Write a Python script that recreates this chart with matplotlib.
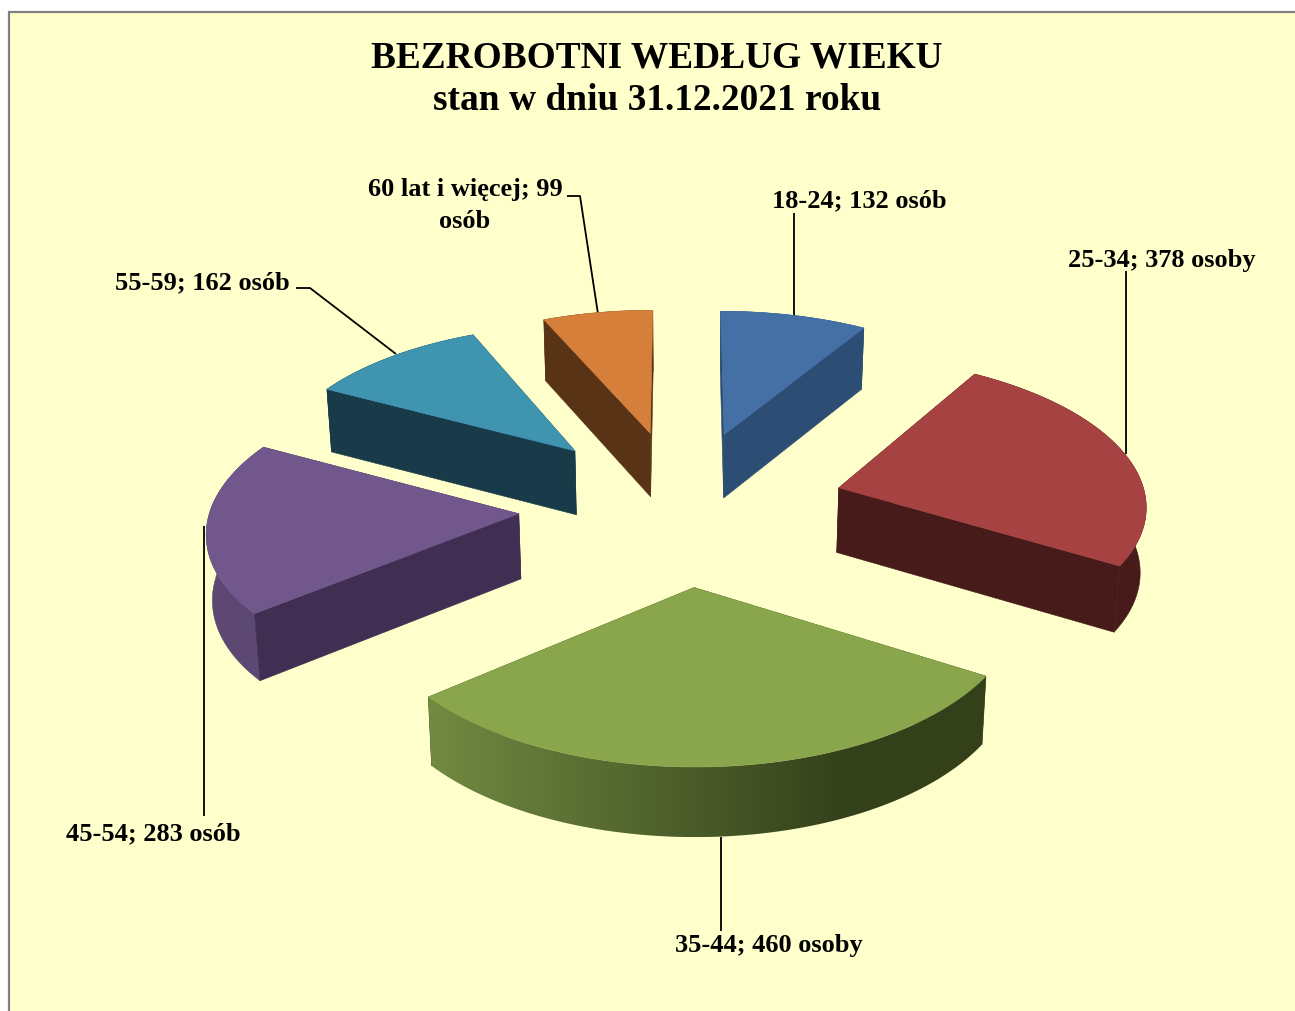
import numpy as np
import matplotlib
matplotlib.use("Agg")
import matplotlib.pyplot as plt
from matplotlib.patches import Polygon, Rectangle
from matplotlib.colors import LinearSegmentedColormap

title_lines = ["BEZROBOTNI WEDŁUG WIEKU", "stan w dniu 31.12.2021 roku"]
categories = ["18-24", "25-34", "35-44", "45-54", "55-59", "60 lat i więcej"]
values = [132, 378, 460, 283, 162, 99]
units = ["osób", "osoby", "osoby", "osób", "osób", "osób"]
top_colors = ["#4470A6", "#A64342", "#8AA64C", "#72578C", "#3F94B0", "#D67F3A"]
wall_colors = ["#2D4E74", "#461B19", "#3A4A1E", "#402F52", "#193A48", "#583316"]
arc_colors = ["#2D4E74", "#461B19", None, "#5C4873", "#193A48", "#583316"]

W, H = 1295, 1012
fig = plt.figure(figsize=(W / 100, H / 100), dpi=100)
ax = fig.add_axes([0, 0, 1, 1])
ax.set_xlim(0, W)
ax.set_ylim(H, 0)
ax.axis("off")
ax.add_patch(Rectangle((9, 12.5), W, H, fc="#FFFFCC", ec="#808080", lw=1.6, zorder=0))

CX, Y0, A, B, D, EXPL, DEPTH = 682, 507, 308, 1600, 10.9, 0.53, 65
green_cmap = LinearSegmentedColormap.from_list("g", ["#728A42", "#33401A"])


def project(theta, r, mid):
    x = EXPL * np.sin(mid) + r * np.sin(theta)
    v = -(EXPL * np.cos(mid) + r * np.cos(theta))
    s = D / (D - v)
    return CX + A * x * s, Y0 + B * (s - 1), s, v


def wall(top_xy, scale):
    sx, sy = top_xy
    bx = CX + (sx - CX) * 0.987
    by = sy + DEPTH * scale ** 0.5
    return bx, by


total = sum(values)
edges = np.concatenate([[0], np.cumsum(values)]) / total * 2 * np.pi

for i in range(len(values)):
    t0, t1 = edges[i], edges[i + 1]
    mid = (t0 + t1) / 2
    th = np.linspace(t0, t1, 120)
    ax_x, ax_y, ax_s, ax_v = project(0, 0, mid)
    rx, ry, rs, rv = project(th, 1, mid)
    bax = wall((ax_x, ax_y), ax_s)
    brx, bry = wall((rx, ry), rs)

    faces = []
    for k in (0, -1):
        poly = [(ax_x, ax_y), (rx[k], ry[k]), (brx[k], bry[k]), bax]
        faces.append(((ax_v + rv[k]) / 2, poly, wall_colors[i]))
    faces.append((rv.mean(), None, None))
    faces.sort(key=lambda f: f[0])
    z = 2 + i * 0.01
    for _, poly, col in faces:
        if poly is not None:
            ax.add_patch(Polygon(poly, closed=True, fc=col, ec=col, lw=0.4, zorder=z))
        else:
            arc = list(zip(rx, ry)) + list(zip(brx[::-1], bry[::-1]))
            if arc_colors[i] is not None:
                ax.add_patch(Polygon(arc, closed=True, fc=arc_colors[i], ec=arc_colors[i], lw=0.4, zorder=z))
            else:
                clip = Polygon(arc, closed=True, transform=ax.transData)
                im = ax.imshow(np.linspace(0, 1, 256)[None, :], cmap=green_cmap, aspect="auto",
                               extent=(rx.min(), 850, bry.max(), ry.min()), zorder=z)
                # the dark end carries on to the right edge of the slice
                im2 = ax.imshow(np.ones((1, 2)), cmap=green_cmap, vmin=0, vmax=1, aspect="auto",
                                extent=(849.5, rx.max() + 2, bry.max(), ry.min()), zorder=z)
                im.set_clip_path(clip)
                im2.set_clip_path(clip)
                ax.set_xlim(0, W)
                ax.set_ylim(H, 0)
    top = [(ax_x, ax_y)] + list(zip(rx, ry))
    ax.add_patch(Polygon(top, closed=True, fc=top_colors[i], ec=top_colors[i], lw=0.4, zorder=z + 0.005))

FONT = "Liberation Serif"
ax.text(657, 58, title_lines[0], family=FONT, weight="bold", size=26.9, ha="center", va="center", color="black", zorder=5)
ax.text(657, 100, title_lines[1], family=FONT, weight="bold", size=26.9, ha="center", va="center", color="black", zorder=5)

labels = [f"{c}; {v} {u}" for c, v, u in zip(categories, values, units)]
label_pos = [(859, 201), (1162, 260), (769, 946), (153, 834), (202, 283)]
for idx, (x, y) in zip(range(5), label_pos):
    ax.text(x, y, labels[idx], family=FONT, weight="bold", size=19, ha="center", va="center", color="black", zorder=5)
ax.text(465, 189, f"{categories[5]}; {values[5]}", family=FONT, weight="bold", size=19, ha="center", va="center", zorder=5)
ax.text(465, 221, units[5], family=FONT, weight="bold", size=19, ha="center", va="center", zorder=5)

leaders = [
    ([794, 794], [214, 318]),
    ([1126, 1126], [272, 455]),
    ([721, 721], [838, 932]),
    ([204, 204], [527, 817]),
    ([296, 310, 396], [289, 289, 355]),
    ([567, 580, 598], [197, 197, 315]),
]
for xs, ys in leaders:
    ax.plot(xs, ys, color="black", lw=1.3, zorder=1, solid_capstyle="butt")

fig.savefig("out.png", dpi=100, facecolor="white")
